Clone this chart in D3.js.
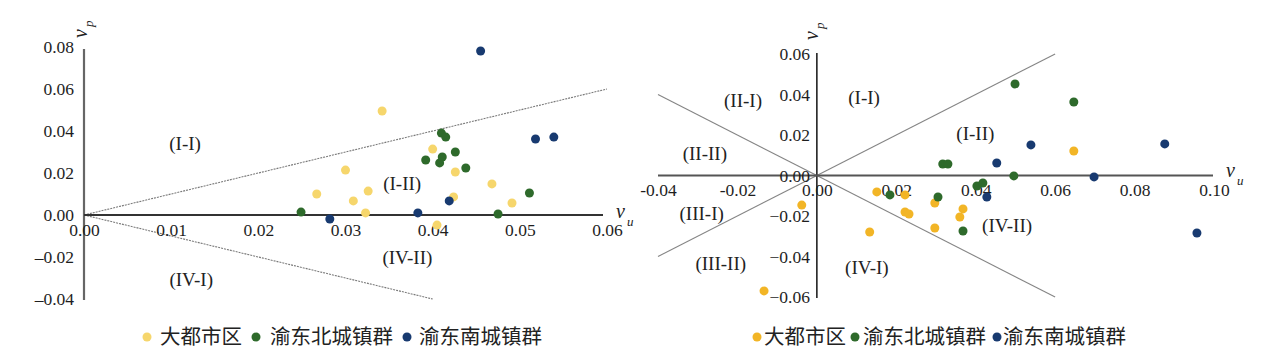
<!DOCTYPE html>
<html><head><meta charset="utf-8">
<script src="https://cdn.jsdelivr.net/npm/d3@7"></script>
<style>body{margin:0;background:#fff}svg{display:block}.tk text{font-family:'Liberation Serif','Times New Roman',serif !important;font-size:17.5px !important;fill:#1e1e1e !important}</style>
</head><body>
<svg id="c" width="1268" height="355"></svg>
<script>
// ---------- DATA ----------
const seriesNames = ["大都市区", "渝东北城镇群", "渝东南城镇群"];
// Left chart [v_u, v_p]
const leftMetro = [[0.0342,0.0495],[0.0400,0.0314],[0.0300,0.0214],[0.0426,0.0205],[0.0267,0.0100],[0.0309,0.0067],[0.0326,0.0114],[0.0323,0.0010],[0.0405,-0.0048],[0.0424,0.0086],[0.0468,0.0148],[0.0491,0.0057]];
const leftNE = [[0.0249,0.0014],[0.0410,0.0390],[0.0415,0.0371],[0.0392,0.0262],[0.0408,0.0248],[0.0411,0.0276],[0.0426,0.0300],[0.0438,0.0224],[0.0511,0.0105],[0.0475,0.0005]];
const leftSE = [[0.0455,0.0781],[0.0518,0.0362],[0.0539,0.0371],[0.0282,-0.0019],[0.0383,0.0010],[0.0419,0.0067]];
// Right chart [v_u, v_p]
const rightMetro = [[-0.0038,-0.0146],[-0.0133,-0.0570],[0.0151,-0.0081],[0.0133,-0.0279],[0.0222,-0.0096],[0.0222,-0.0180],[0.0232,-0.0190],[0.0297,-0.0136],[0.0297,-0.0259],[0.0368,-0.0165],[0.0360,-0.0205],[0.0647,0.0121]];
const rightNE = [[0.0317,0.0057],[0.0330,0.0057],[0.0499,0.0452],[0.0647,0.0363],[0.0496,-0.0002],[0.0403,-0.0052],[0.0418,-0.0037],[0.0305,-0.0106],[0.0368,-0.0274],[0.0184,-0.0096]];
const rightSE = [[0.0539,0.0151],[0.0453,0.0062],[0.0876,0.0156],[0.0698,-0.0007],[0.0428,-0.0106],[0.0957,-0.0284]];
// Ticks
const leftXTicks = [0, 0.01, 0.02, 0.03, 0.04, 0.05, 0.06];
const leftXLabels = ["0.00","0.01","0.02","0.03","0.04","0.05","0.06"];
const leftYTicks = [-0.04, -0.02, 0, 0.02, 0.04, 0.06, 0.08];
const leftYLabels = ["–0.04","–0.02","0.00","0.02","0.04","0.06","0.08"];
const rightXTicks = [-0.04, -0.02, 0, 0.02, 0.04, 0.06, 0.08, 0.10];
const rightXLabels = ["-0.04","-0.02","0.00","0.02","0.04","0.06","0.08","0.10"];
const rightYTicks = [-0.06, -0.04, -0.02, 0, 0.02, 0.04, 0.06];
const rightYLabels = ["−0.06","−0.04","−0.02","0.00","0.02","0.04","0.06"];
// Boundary lines (elasticity = ±1)
const leftLines = [[[0,0],[0.06,0.06]], [[0,0],[0.04,-0.04]]];
const rightLines = [[[0,0],[0.06,0.06]], [[0,0],[-0.04,0.04]], [[0,0],[-0.04,-0.04]], [[0,0],[0.06,-0.06]]];
// Region labels
const leftRegions = [["(I-I)",0.0116,0.0342],["(I-II)",0.0365,0.0152],["(IV-II)",0.0371,-0.0200],["(IV-I)",0.0123,-0.0305]];
const rightRegions = [["(I-I)",0.0119,0.0387],["(II-I)",-0.0186,0.0373],["(II-II)",-0.0282,0.0111],["(I-II)",0.0399,0.0210],["(III-I)",-0.0290,-0.0185],["(III-II)",-0.0242,-0.0432],["(IV-I)",0.0126,-0.0452],["(IV-II)",0.0479,-0.0244]];

// ---------- DRAW ----------
const svg = d3.select("#c");
const serif = "'Liberation Serif','Times New Roman',serif";
const cjk = "'Noto Sans CJK SC','Noto Sans',sans-serif";

function chart(cfg){
  const g = svg.append("g");
  const x = d3.scaleLinear().domain(cfg.xd).range(cfg.xr);
  const y = d3.scaleLinear().domain(cfg.yd).range(cfg.yr);
  const line = d3.line().x(d=>x(d[0])).y(d=>y(d[1]));
  cfg.lines.forEach(l=>g.append("path").attr("d", line(l)).attr("fill","none")
     .attr("stroke", cfg.lineColor).attr("stroke-width", 1.1).attr("stroke-dasharray", cfg.dash));
  g.append("line").attr("x1", x(0)).attr("x2", x(0)).attr("y1", cfg.yTop).attr("y2", cfg.yBot)
    .attr("stroke", cfg.yAxisColor).attr("stroke-width", cfg.yAxisW);
  g.append("line").attr("x1", cfg.xLeft).attr("x2", cfg.xRight).attr("y1", y(0)).attr("y2", y(0))
    .attr("stroke", cfg.xAxisColor).attr("stroke-width", 2);
  const ax = g.append("g").attr("class","tk").attr("transform", `translate(0,${y(0)})`)
    .call(d3.axisBottom(x).tickValues(cfg.xt).tickSize(0).tickPadding(cfg.xPad)
      .tickFormat((d,i)=>cfg.xl[i]));
  ax.select(".domain").remove();
  const ay = g.append("g").attr("class","tk").attr("transform", `translate(${cfg.yLabX},0)`)
    .call(d3.axisLeft(y).tickValues(cfg.yt).tickSize(0).tickPadding(0)
      .tickFormat((d,i)=>cfg.yl[i]));
  ay.select(".domain").remove();
  cfg.regions.forEach(r=>g.append("text").attr("x", x(r[1])).attr("y", y(r[2]))
    .attr("dy","0.35em").attr("text-anchor","middle").attr("font-family", serif)
    .attr("font-size", 19).attr("fill","#222").text(r[0]));
  cfg.series.forEach((s,i)=>{
    g.append("g").selectAll("circle").data(s).join("circle")
      .attr("cx", d=>x(d[0])).attr("cy", d=>y(d[1])).attr("r", 4.5)
      .attr("fill", cfg.colors[i]);
  });
  const vp = g.append("text").attr("transform", `translate(${cfg.vpPos[0]},${cfg.vpPos[1]}) rotate(-90)`)
    .attr("font-family", serif).attr("font-size", 20).attr("fill","#222");
  vp.append("tspan").attr("font-style","italic").text("v");
  vp.append("tspan").attr("font-style","italic").attr("font-size", 13).attr("dy", 6).attr("dx", 2).text("p");
  const vu = g.append("text").attr("x", cfg.vuPos[0]).attr("y", cfg.vuPos[1])
    .attr("font-family", serif).attr("font-size", 20).attr("fill","#222");
  vu.append("tspan").attr("font-style","italic").text("v");
  vu.append("tspan").attr("font-style","italic").attr("font-size", 13).attr("dy", 8).attr("dx", 2).text("u");
  const lg = g.append("g");
  cfg.legend.forEach((p,i)=>{
    lg.append("circle").attr("cx", p[0]).attr("cy", cfg.legY).attr("r", 4.5).attr("fill", cfg.colors[i]);
    lg.append("text").attr("x", p[1]).attr("y", cfg.legY).attr("dy","0.36em")
      .attr("font-family", cjk).attr("font-size", 20.5).attr("fill","#222").text(seriesNames[i]);
  });
}

chart({
  xd:[0,0.06], xr:[84,607], yd:[-0.04,0.08], yr:[299,47],
  lines:leftLines, lineColor:"#7a7a7a", dash:"2,1",
  yTop:49, yBot:300, xLeft:84, xRight:603,
  yAxisColor:"#666", yAxisW:2.2, xAxisColor:"#333",
  xt:leftXTicks, xl:leftXLabels, xPad:9,
  yt:leftYTicks, yl:leftYLabels, yLabX:74,
  regions:leftRegions,
  series:[leftMetro, leftNE, leftSE],
  colors:["#F6D66C","#2E6A2B","#183A70"],
  vpPos:[87,38], vuPos:[616,218],
  legend:[[147,160],[256,270],[407,419]], legY:337
});
chart({
  xd:[-0.04,0.10], xr:[658,1214], yd:[-0.06,0.06], yr:[297,54],
  lines:rightLines, lineColor:"#858585", dash:null,
  yTop:53, yBot:298, xLeft:658, xRight:1213,
  yAxisColor:"#222", yAxisW:1.6, xAxisColor:"#555",
  xt:rightXTicks, xl:rightXLabels, xPad:8,
  yt:rightYTicks, yl:rightYLabels, yLabX:810,
  regions:rightRegions,
  series:[rightMetro, rightNE, rightSE],
  colors:["#F2B526","#2E6A2B","#183A70"],
  vpPos:[818,40], vuPos:[1226,177],
  legend:[[757,764],[855,863],[997,1003]], legY:337
});
</script>
</body></html>
